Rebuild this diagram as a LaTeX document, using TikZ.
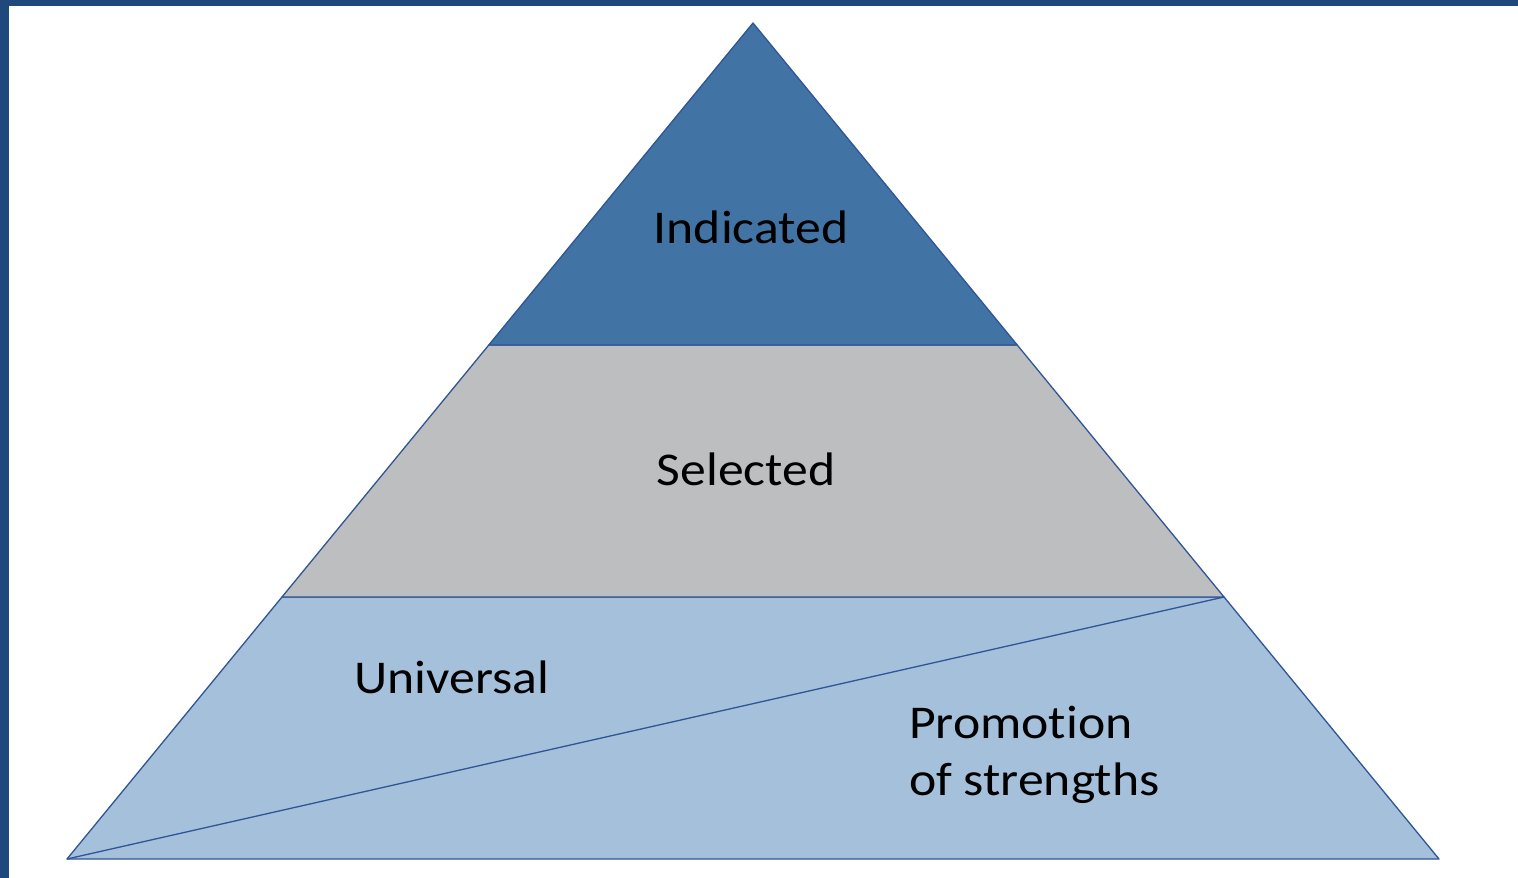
\documentclass[tikz,border=0pt]{standalone}
\usepackage{fontspec}
\setmainfont{Carlito}[FakeStretch=1.1, Ligatures=NoCommon, RawFeature={-calt;-clig;-dlig}]
\usetikzlibrary{calc}
\definecolor{frameblue}{RGB}{31,73,125}
\definecolor{topblue}{RGB}{65,116,164}
\definecolor{midgray}{RGB}{189,190,192}
\definecolor{lowblue}{RGB}{164,192,218}
\definecolor{edgeblue}{RGB}{47,85,151}
\tikzset{
  band/.style={draw=edgeblue, line width=1.3pt, line join=round},
  label/.style={font=\fontsize{47}{57}\selectfont, text=black, inner sep=0pt},
}
\begin{document}
\begin{tikzpicture}[x=1pt,y=-1pt]
\useasboundingbox (0,0) rectangle (1518,878);
\fill[white] (0,0) rectangle (1518,878);
\fill[frameblue] (0,0) rectangle (1518,6);
\fill[frameblue] (0,0) rectangle (9,878);
\coordinate (A) at (753,23);
\coordinate (BL) at (67,859);
\coordinate (BR) at (1439,859);
\coordinate (L1) at ($(A)!0.3852!(BL)$);
\coordinate (R1) at ($(A)!0.3852!(BR)$);
\coordinate (L2) at ($(A)!0.6866!(BL)$);
\coordinate (R2) at ($(A)!0.6866!(BR)$);
\filldraw[band, fill=lowblue] (L2) -- (R2) -- (BR) -- (BL) -- cycle;
\filldraw[band, fill=midgray] (L1) -- (R1) -- (R2) -- (L2) -- cycle;
\filldraw[band, fill=topblue] (A) -- (R1) -- (L1) -- cycle;
\draw[band] (BL) -- (R2);
\node[label] (ind) at (751,227) {Indicated};
\node[label] (sel) at (746,469) {Selected};
\node[label] (uni) at (452,677) {Universal};
\node[label, anchor=west, align=left] (pro) at (909,755) {Promotion\\of strengths};
\end{tikzpicture}
\end{document}
